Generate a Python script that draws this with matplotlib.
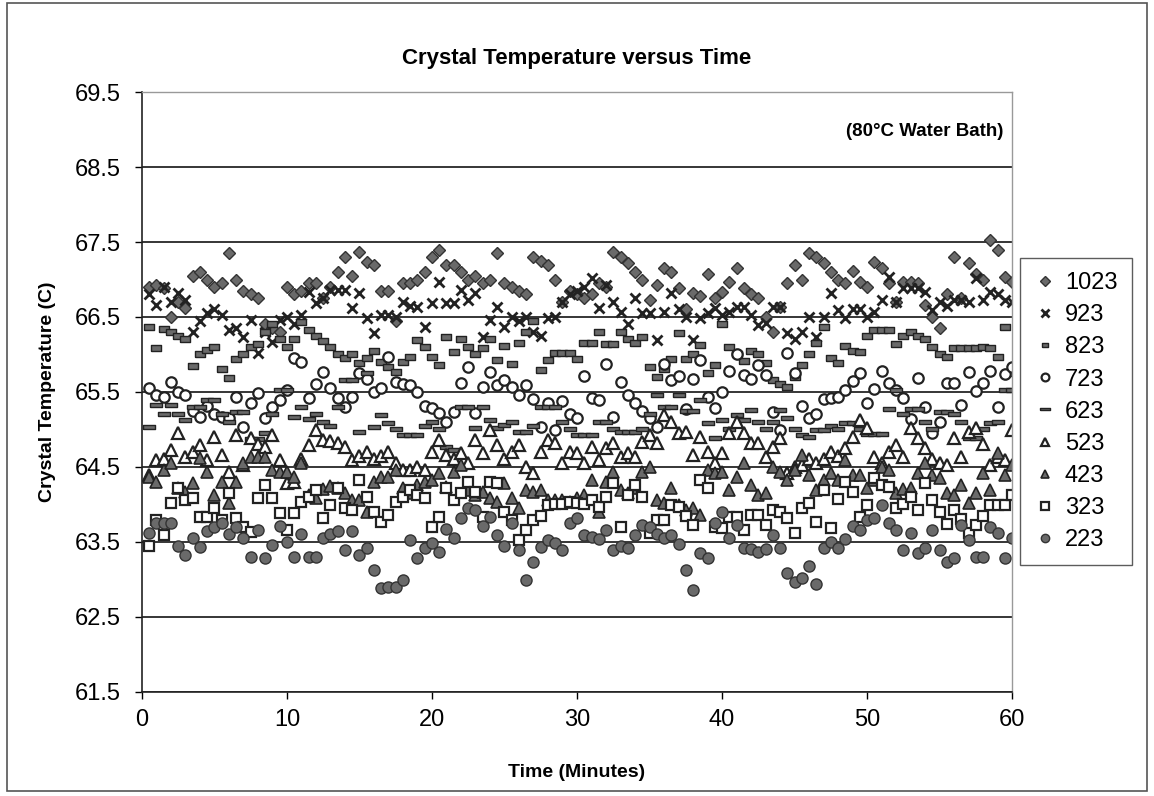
import numpy as np
import matplotlib
matplotlib.use('Agg')
import matplotlib.pyplot as plt
from matplotlib.patches import Rectangle

plt.rcParams['font.family'] = ['Liberation Sans', 'DejaVu Sans']

# readings taken every half minute
minutes = np.arange(0.5, 60.01, 0.5)

s1023 = [66.9, 66.92, 66.88, 66.5, 66.7, 66.62, 67.05, 67.1, 67.0, 66.9,
         66.95, 67.35, 67.0, 66.85, 66.8, 66.75, 66.4, 66.35, 66.3, 66.9,
         66.8, 66.85, 66.95, 66.95, 66.75, 66.9, 67.1, 67.3, 67.05, 67.37,
         67.23, 67.2, 66.85, 66.85, 66.45, 66.95, 66.95, 67.0, 67.1, 67.3,
         67.4, 67.2, 67.2, 67.1, 67.0, 67.05, 66.95, 67.0, 67.35, 66.95,
         66.9, 66.85, 66.8, 67.3, 67.25, 67.2, 67.0, 66.7, 66.85, 66.8,
         66.75, 66.8, 66.95, 66.9, 67.37, 67.3, 67.22, 67.1, 67.0, 66.73,
         66.93, 67.15, 67.1, 66.88, 66.6, 66.82, 66.78, 67.08, 66.75, 66.83,
         66.97, 67.15, 66.88, 66.8, 66.75, 66.5, 66.3, 66.63, 66.95, 67.2,
         67.0, 67.35, 67.3, 67.22, 67.1, 67.0, 66.95, 67.12, 66.97, 66.9,
         67.23, 67.15, 66.95, 66.7, 66.97, 66.97, 66.95, 66.66, 66.5, 66.35,
         66.8, 67.3, 66.75, 67.22, 67.08, 67.0, 67.53, 67.4, 67.03, 66.97]
s923 = [66.8, 66.66, 66.9, 66.7, 66.82, 66.73, 66.3, 66.45, 66.55, 66.6,
        66.53, 66.33, 66.35, 66.23, 66.46, 66.02, 66.3, 66.17, 66.46, 66.5,
        66.4, 66.53, 66.83, 66.68, 66.75, 66.86, 66.86, 66.86, 66.62, 66.82,
        66.49, 66.28, 66.53, 66.53, 66.5, 66.7, 66.65, 66.63, 66.37, 66.69,
        66.97, 66.68, 66.68, 66.86, 66.73, 66.82, 66.23, 66.46, 66.63, 66.37,
        66.5, 66.45, 66.5, 66.3, 66.25, 66.49, 66.5, 66.7, 66.8, 66.85,
        66.9, 67.02, 66.62, 66.93, 66.7, 66.57, 66.4, 66.75, 66.55, 66.55,
        66.19, 66.57, 66.82, 66.6, 66.5, 66.19, 66.49, 66.55, 66.62, 66.53,
        66.57, 66.63, 66.63, 66.53, 66.39, 66.42, 66.63, 66.63, 66.28, 66.2,
        66.3, 66.5, 66.23, 66.5, 66.82, 66.59, 66.49, 66.6, 66.6, 66.5,
        66.57, 66.73, 67.03, 66.7, 66.88, 66.88, 66.88, 66.83, 66.59, 66.7,
        66.65, 66.73, 66.73, 66.7, 67.02, 66.73, 66.83, 66.8, 66.73, 66.7]
s823 = [66.37, 66.09, 66.34, 66.3, 66.25, 66.2, 65.85, 66.0, 66.06, 66.1,
        65.8, 65.68, 65.94, 66.0, 66.1, 66.14, 66.3, 66.4, 66.2, 66.1,
        66.2, 66.43, 66.33, 66.25, 66.18, 66.1, 66.0, 65.95, 66.0, 65.89,
        65.95, 66.05, 65.9, 65.83, 65.77, 65.9, 65.97, 66.19, 66.1, 65.97,
        65.86, 66.23, 66.03, 66.2, 66.1, 66.0, 66.09, 66.2, 65.92, 66.11,
        65.87, 66.15, 66.3, 66.45, 65.79, 65.93, 66.02, 66.02, 66.02, 65.94,
        66.15, 66.15, 66.3, 66.14, 66.14, 66.3, 66.2, 66.15, 66.23, 65.83,
        65.7, 65.8, 65.94, 66.28, 65.94, 66.0, 66.13, 65.75, 65.86, 66.4,
        66.1, 66.0, 65.91, 66.05, 66.0, 65.89, 65.66, 65.6, 65.57, 65.7,
        65.86, 66.0, 66.15, 66.37, 65.95, 65.88, 66.11, 66.05, 66.03, 66.25,
        66.33, 66.33, 66.33, 66.14, 66.25, 66.3, 66.25, 66.2, 66.1, 66.0,
        65.97, 66.09, 66.09, 66.09, 66.09, 66.1, 66.09, 65.97, 66.37, 65.75]
s723 = [65.55, 65.46, 65.43, 65.63, 65.5, 65.46, 65.25, 65.17, 65.31, 65.2,
        65.17, 65.15, 65.43, 65.03, 65.35, 65.49, 65.15, 65.3, 65.39, 65.53,
        65.95, 65.9, 65.42, 65.6, 65.77, 65.55, 65.42, 65.3, 65.43, 65.75,
        65.67, 65.5, 65.55, 65.97, 65.63, 65.6, 65.59, 65.5, 65.31, 65.29,
        65.22, 65.1, 65.23, 65.62, 65.83, 65.22, 65.57, 65.77, 65.59, 65.66,
        65.57, 65.46, 65.59, 65.41, 65.03, 65.35, 64.99, 65.38, 65.2, 65.15,
        65.71, 65.42, 65.39, 65.87, 65.17, 65.63, 65.46, 65.35, 65.25, 65.15,
        65.03, 65.87, 65.66, 65.71, 65.27, 65.67, 65.93, 65.43, 65.29, 65.5,
        65.78, 66.0, 65.73, 65.67, 65.86, 65.73, 65.23, 64.99, 66.02, 65.75,
        65.31, 65.15, 65.21, 65.41, 65.42, 65.43, 65.53, 65.65, 65.75, 65.35,
        65.54, 65.78, 65.62, 65.53, 65.42, 65.14, 65.68, 65.3, 64.95, 65.1,
        65.62, 65.62, 65.33, 65.77, 65.51, 65.62, 65.78, 65.3, 65.74, 65.83]
s623 = [65.03, 65.33, 65.2, 65.33, 65.21, 65.13, 65.3, 65.3, 65.39, 65.39,
        65.2, 65.1, 65.23, 65.23, 64.87, 64.87, 64.95, 65.2, 65.53, 65.53,
        65.17, 65.3, 65.14, 65.2, 65.1, 65.05, 65.3, 65.66, 65.66, 64.97,
        65.75, 65.03, 65.19, 65.09, 65.0, 64.93, 64.93, 64.93, 65.05, 65.1,
        65.0, 64.77, 64.72, 65.3, 65.3, 65.02, 65.3, 65.13, 65.02, 65.06,
        65.1, 64.97, 64.97, 65.05, 65.3, 65.3, 65.3, 65.1, 65.0, 64.92,
        64.92, 64.92, 65.1, 65.1, 65.0, 64.97, 64.97, 64.97, 65.0, 65.2,
        65.46, 65.3, 65.3, 65.46, 65.25, 65.25, 65.39, 65.09, 64.89, 65.13,
        65.0, 65.19, 65.13, 65.26, 65.1, 65.0, 65.1, 65.26, 65.15, 65.0,
        64.93, 64.9, 64.99, 64.99, 65.05, 65.0, 65.09, 65.09, 65.0, 64.94,
        64.94, 64.94, 65.27, 65.53, 65.2, 65.27, 65.27, 65.1, 65.0, 65.23,
        65.23, 65.2, 65.1, 64.89, 64.89, 65.0, 65.09, 65.1, 65.53, 65.53]
s523 = [64.39, 64.59, 64.6, 64.73, 64.95, 64.63, 64.7, 64.79, 64.59, 64.9,
        64.66, 64.43, 64.93, 64.53, 64.89, 64.8, 64.77, 64.93, 64.59, 64.29,
        64.3, 64.61, 64.79, 64.99, 64.86, 64.85, 64.82, 64.77, 64.59, 64.65,
        64.7, 64.6, 64.65, 64.7, 64.55, 64.46, 64.46, 64.5, 64.46, 64.7,
        64.86, 64.66, 64.6, 64.69, 64.55, 64.86, 64.69, 64.99, 64.79, 64.6,
        64.7, 64.79, 64.5, 64.42, 64.7, 64.86, 64.82, 64.55, 64.7, 64.69,
        64.55, 64.77, 64.59, 64.75, 64.82, 64.63, 64.69, 64.63, 64.83, 64.93,
        64.82, 65.19, 65.1, 64.95, 64.97, 64.66, 64.9, 64.7, 64.55, 64.69,
        64.95, 65.1, 64.95, 64.82, 64.82, 64.63, 64.77, 64.89, 64.42, 64.5,
        64.53, 64.6, 64.55, 64.6, 64.7, 64.65, 64.75, 64.9, 65.13, 65.02,
        64.63, 64.55, 64.7, 64.79, 64.63, 65.02, 64.89, 64.75, 64.6, 64.55,
        64.53, 64.89, 64.63, 64.97, 65.02, 64.8, 64.53, 64.63, 64.59, 64.99]
s423 = [64.37, 64.3, 64.46, 64.55, 64.22, 64.17, 64.29, 64.62, 64.43, 64.13,
        64.3, 64.02, 64.3, 64.55, 64.63, 64.63, 64.63, 64.46, 64.43, 64.43,
        64.37, 64.55, 64.13, 64.09, 64.2, 64.25, 64.22, 64.15, 64.06, 64.06,
        63.9, 64.3, 64.37, 64.37, 64.46, 64.22, 64.15, 64.26, 64.3, 64.33,
        64.42, 64.23, 64.43, 64.53, 64.19, 64.13, 64.17, 64.09, 64.03, 64.29,
        64.09, 63.95, 64.19, 64.17, 64.19, 64.06, 64.06, 64.06, 64.03, 64.09,
        64.13, 64.33, 63.9, 64.3, 64.43, 64.19, 64.15, 64.22, 64.43, 64.5,
        64.06, 64.02, 64.22, 63.99, 63.93, 63.95, 63.86, 64.46, 64.42, 64.43,
        64.19, 64.37, 64.55, 64.26, 64.13, 64.15, 64.5, 64.43, 64.33, 64.46,
        64.66, 64.39, 64.19, 64.33, 64.42, 64.33, 64.59, 64.39, 64.39, 64.22,
        64.33, 64.5, 64.46, 64.15, 64.2, 64.22, 64.42, 64.55, 64.39, 64.35,
        64.15, 64.13, 64.26, 64.02, 64.15, 64.42, 64.19, 64.69, 64.39, 64.53]
s323 = [63.45, 63.79, 63.59, 64.02, 64.22, 64.06, 64.09, 63.83, 63.83, 63.95,
        63.79, 64.15, 63.82, 63.7, 63.63, 64.09, 64.26, 64.09, 63.89, 63.66,
        63.89, 64.03, 64.1, 64.19, 63.82, 63.99, 64.22, 63.95, 63.93, 64.33,
        64.1, 63.9, 63.77, 63.86, 64.03, 64.1, 64.19, 64.13, 64.09, 63.7,
        63.83, 64.22, 64.06, 64.15, 64.3, 64.17, 63.83, 64.3, 64.29, 63.9,
        63.79, 63.53, 63.66, 63.79, 63.85, 63.99, 64.0, 64.0, 64.03, 64.02,
        64.0, 64.06, 63.97, 64.1, 64.29, 63.7, 64.13, 64.26, 64.1, 63.62,
        63.79, 63.79, 63.99, 63.97, 63.85, 63.73, 64.33, 64.22, 63.7, 63.69,
        63.83, 63.83, 63.66, 63.86, 63.86, 63.73, 63.93, 63.9, 63.82, 63.62,
        63.95, 64.02, 63.77, 64.19, 63.69, 64.07, 64.3, 64.17, 63.83, 63.99,
        64.35, 64.26, 64.23, 63.95, 64.0, 64.1, 63.93, 64.29, 64.06, 63.9,
        63.74, 63.93, 63.81, 63.62, 63.73, 63.85, 63.99, 63.99, 63.99, 64.13]
s223 = [63.62, 63.75, 63.75, 63.75, 63.45, 63.33, 63.55, 63.43, 63.65, 63.7,
        63.75, 63.6, 63.7, 63.55, 63.3, 63.66, 63.29, 63.46, 63.71, 63.5,
        63.3, 63.61, 63.3, 63.3, 63.55, 63.6, 63.65, 63.39, 63.65, 63.33,
        63.42, 63.13, 62.89, 62.9, 62.9, 62.99, 63.53, 63.29, 63.42, 63.49,
        63.37, 63.67, 63.55, 63.82, 63.95, 63.93, 63.71, 63.83, 63.59, 63.45,
        63.75, 63.39, 62.99, 63.23, 63.43, 63.53, 63.49, 63.39, 63.75, 63.82,
        63.59, 63.57, 63.54, 63.66, 63.39, 63.45, 63.42, 63.59, 63.73, 63.7,
        63.6, 63.55, 63.59, 63.47, 63.13, 62.86, 63.35, 63.29, 63.75, 63.9,
        63.55, 63.73, 63.42, 63.4, 63.37, 63.4, 63.59, 63.42, 63.09, 62.97,
        63.02, 63.18, 62.94, 63.42, 63.5, 63.42, 63.54, 63.71, 63.66, 63.79,
        63.82, 63.99, 63.75, 63.66, 63.39, 63.62, 63.35, 63.42, 63.66, 63.39,
        63.23, 63.29, 63.73, 63.53, 63.3, 63.3, 63.7, 63.62, 63.29, 63.55]

labels = ['1023', '923', '823', '723', '623', '523', '423', '323', '223']


def main():
    short_dash = [(-1, -0.6), (1, -0.6), (1, 0.6), (-1, 0.6), (-1, -0.6)]
    long_dash = [(-1, -0.3), (1, -0.3), (1, 0.3), (-1, 0.3), (-1, -0.3)]
    dark = '#222222'
    grey = '#6a6a6a'

    series = [s1023, s923, s823, s723, s623, s523, s423, s323, s223]
    styles = [
        dict(marker='D', ms=6.5, mfc=grey, mec='#333333', mew=1.0),
        dict(marker='x', ms=7.5, mfc=dark, mec=dark, mew=2.0),
        dict(marker=short_dash, ms=6.5, mfc=grey, mec=dark, mew=1.0),
        dict(marker='o', ms=7.5, mfc='white', mec=dark, mew=1.6),
        dict(marker=long_dash, ms=9, mfc=grey, mec=dark, mew=1.0),
        dict(marker='^', ms=8, mfc='white', mec=dark, mew=1.6),
        dict(marker='^', ms=8, mfc=grey, mec=dark, mew=1.2),
        dict(marker='s', ms=7, mfc='white', mec=dark, mew=1.6),
        dict(marker='o', ms=8, mfc=grey, mec='#333333', mew=1.0),
    ]

    fig = plt.figure(figsize=(11.54, 7.96), dpi=100)
    ax = fig.add_axes([0.123, 0.1307, 0.754, 0.7537])

    for vals, lab, st in zip(series, labels, styles):
        ax.plot(minutes, vals, linestyle='none', label=lab, **st)

    ax.set_xlim(0, 60)
    ax.set_ylim(61.5, 69.5)
    ax.set_xticks(np.arange(0, 61, 10))
    ax.set_yticks(np.arange(61.5, 69.6, 1.0))
    ax.set_yticklabels(['%.1f' % v for v in np.arange(61.5, 69.6, 1.0)])
    ax.yaxis.grid(True, color='black', linewidth=1.1)
    ax.set_axisbelow(True)
    ax.tick_params(axis='both', labelsize=17, direction='out', length=5,
                   width=1, colors='black')
    ax.tick_params(axis='y', pad=10)
    ax.tick_params(axis='x', pad=7)

    for side in ['top', 'right']:
        ax.spines[side].set_color('#999999')
        ax.spines[side].set_linewidth(1.0)
    for side in ['left', 'bottom']:
        ax.spines[side].set_color('#222222')
        ax.spines[side].set_linewidth(1.2)

    ax.set_xlabel('Time (Minutes)', fontsize=14, fontweight='bold', labelpad=24)
    ax.set_ylabel('Crystal Temperature (C)', fontsize=14, fontweight='bold', labelpad=14)
    fig.text(0.5, 0.927, 'Crystal Temperature versus Time', ha='center', va='center',
             fontsize=16, fontweight='bold')
    ax.text(0.99, 0.935, '(80\u00b0C Water Bath)', transform=ax.transAxes, ha='right',
            va='center', fontsize=13.5, fontweight='bold')

    leg = fig.legend(loc='upper left', bbox_to_anchor=(0.884, 0.676), fontsize=17,
                     frameon=True, fancybox=False, edgecolor='#333333',
                     handlelength=0.9, handletextpad=0.4, labelspacing=0.43,
                     borderpad=0.6, borderaxespad=0, numpoints=1, markerscale=0.75)
    leg.get_frame().set_linewidth(1.0)

    # outer chart border
    fig.patches.append(Rectangle((0.006, 0.006), 0.988, 0.99, transform=fig.transFigure,
                                 fill=False, edgecolor='#555555', linewidth=1.2))

    fig.savefig('out.png', dpi=100)


if __name__ == '__main__':
    main()
